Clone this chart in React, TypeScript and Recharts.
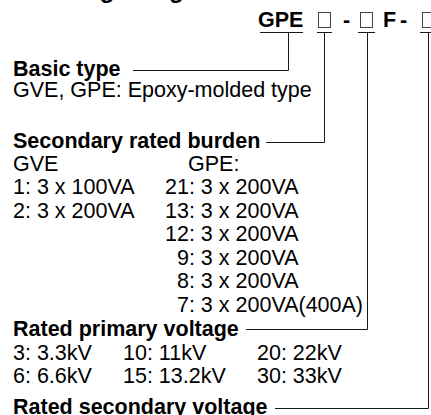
import React from "react";
import { ReferenceLine, Scatter, ScatterChart, XAxis, YAxis } from "recharts";

const W = 431;
const H = 415;
const FONT = '"Liberation Sans", Arial, sans-serif';
const FS = 21.5;
const INK = "#000";
const LINE = "#1a1a1a";

// text content
const title = "Ordering designation";
const codeText = ["GPE", "-", "F", "-"];
const headings = ["Basic type", "Secondary rated burden", "Rated primary voltage", "Rated secondary voltage"];
const basicTypes = ["GVE, GPE: Epoxy-molded type"];
const burdenHeaders = ["GVE", "GPE:"];
const burdenGVE = ["1: 3 x 100VA", "2: 3 x 200VA"];
const burdenGPE = ["21: 3 x 200VA", "13: 3 x 200VA", "12: 3 x 200VA", "9: 3 x 200VA", "8: 3 x 200VA", "7: 3 x 200VA(400A)"];
const primaryVoltages = [
  ["3: 3.3kV", "10: 11kV", "20: 22kV"],
  ["6: 6.6kV", "15: 13.2kV", "30: 33kV"],
];

type Label = { x: number; y: number; text: string; bold?: boolean; size?: number };

function buildLabels(): Label[] {
  const out: Label[] = [];
  const step = 23.5;
  const digitW = 0.556 * FS;

  // title sits mostly above the visible area, only descenders show
  out.push({ x: 13, y: -2.5, text: title, bold: true, size: 24 });

  const codeX = [258, 343, 383, 400];
  codeText.forEach((t, i) => out.push({ x: codeX[i], y: 27, text: t, bold: true }));

  const headY = [75.5, 147.5, 335.5, 413.5];
  headings.forEach((t, i) => out.push({ x: 13, y: headY[i], text: t, bold: true }));

  basicTypes.forEach((t, i) => out.push({ x: 13, y: 96.5 + i * step, text: t }));

  const burdenTop = 170.5;
  out.push({ x: 13, y: burdenTop, text: burdenHeaders[0] });
  out.push({ x: 188, y: burdenTop, text: burdenHeaders[1] });
  burdenGVE.forEach((t, i) => out.push({ x: 13, y: burdenTop + (i + 1) * step, text: t }));
  burdenGPE.forEach((t, i) => {
    const oneDigit = t.indexOf(":") === 1;
    out.push({ x: 165 + (oneDigit ? digitW : 0), y: burdenTop + (i + 1) * step, text: t });
  });

  const colX = [13, 123, 257];
  primaryVoltages.forEach((row, r) =>
    row.forEach((t, c) => out.push({ x: colX[c], y: 359.5 + r * step, text: t }))
  );
  return out;
}

const labels = buildLabels();
const boxes = [
  { x: 318, y: 12 },
  { x: 360, y: 12 },
  { x: 422, y: 12 },
];

type Seg = [number, number, number, number];
const segments: Seg[] = [
  // underlines of the code parts
  [260, 32.5, 303, 32.5],
  [317, 32.5, 332, 32.5],
  [358, 32.5, 375, 32.5],
  [420, 32.5, 437, 32.5],
  // leaders
  [288.5, 32.5, 288.5, 70.5],
  [133, 70.5, 288.5, 70.5],
  [324.5, 32.5, 324.5, 142.5],
  [266, 142.5, 324.5, 142.5],
  [367.5, 32.5, 367.5, 329.5],
  [246, 329.5, 367.5, 329.5],
  [428.5, 32.5, 428.5, 408.5],
  [275, 408.5, 428.5, 408.5],
];

const TextShape = (props: any) => {
  const p = props.payload as Label;
  return (
    <text
      x={props.cx}
      y={props.cy}
      fill={INK}
      fontFamily={FONT}
      fontSize={p.size ?? FS}
      fontWeight={p.bold ? 700 : 400}
    >
      {p.text}
    </text>
  );
};

const BoxShape = (props: any) => (
  <rect x={props.cx + 0.5} y={props.cy + 0.5} width={12} height={15} fill="none" stroke="#444" strokeWidth={1} />
);

export default function App() {
  return (
    <div style={{ position: "absolute", left: 0, top: 0, width: W, height: H, background: "#fff" }}>
      <ScatterChart width={W} height={H} margin={{ top: 0, right: 0, bottom: 0, left: 0 }}>
        <XAxis type="number" dataKey="x" domain={[0, W]} allowDataOverflow hide />
        <YAxis type="number" dataKey="y" domain={[0, H]} allowDataOverflow reversed hide />
        {segments.map((s, i) => (
          <ReferenceLine
            key={i}
            segment={[
              { x: s[0], y: s[1] },
              { x: s[2], y: s[3] },
            ]}
            stroke={LINE}
            strokeWidth={1}
            ifOverflow="visible"
          />
        ))}
        <Scatter data={boxes} shape={BoxShape} isAnimationActive={false} />
        <Scatter data={labels} shape={TextShape} isAnimationActive={false} />
      </ScatterChart>
    </div>
  );
}
